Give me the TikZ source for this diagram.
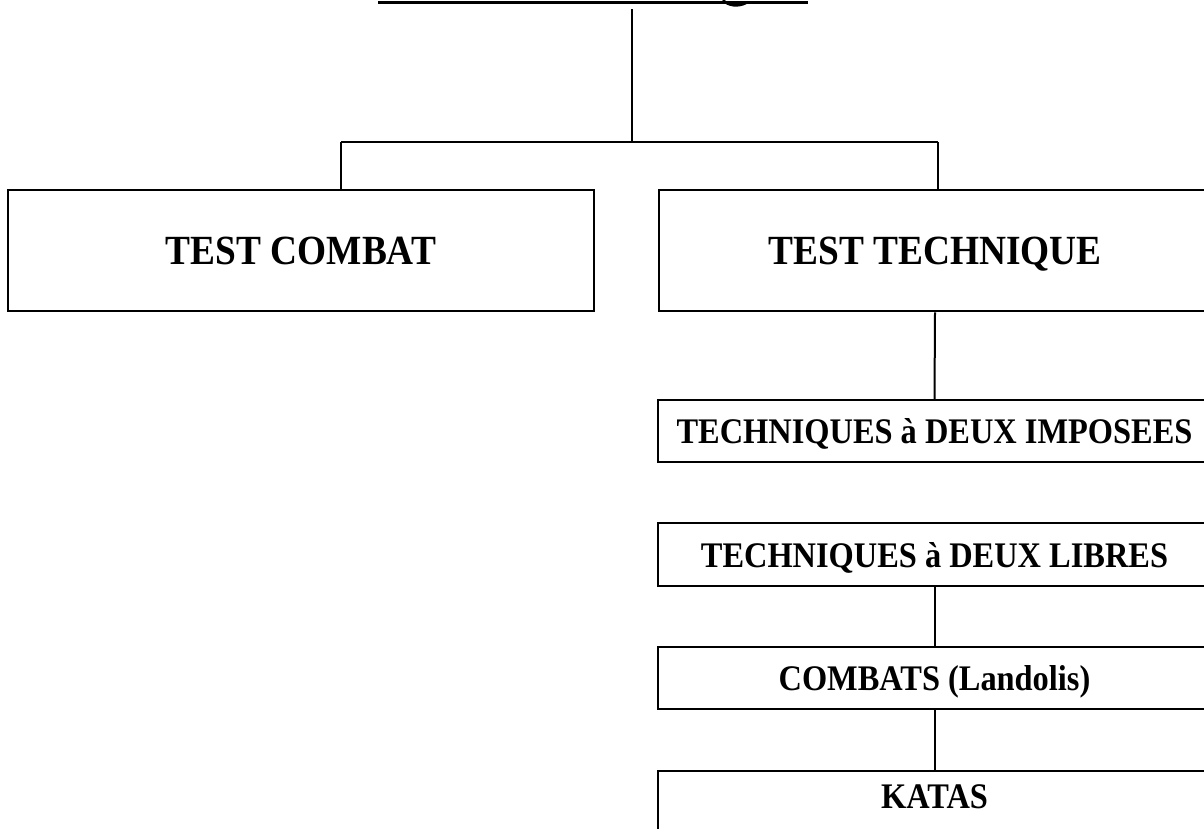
\documentclass[tikz,border=0pt]{standalone}
\usepackage{fontspec}
\setmainfont{Liberation Serif}
\newfontfamily\boxfont[FakeStretch=0.9]{Liberation Serif}
\begin{document}
\begin{tikzpicture}[x=1pt,y=-1pt,
  box/.style={draw=black,line width=2.5pt,rectangle,inner sep=0pt,text depth=0pt},
  big/.style={box,font=\boxfont\bfseries\fontsize{41.5}{44}\selectfont},
  small/.style={box,font=\boxfont\bfseries\fontsize{36}{38}\selectfont},
  conn/.style={draw=black,line width=2pt}]
\useasboundingbox (0,0) rectangle (1204,828);
% title underline (title text itself lies above the visible area)
\draw[line width=3pt] (378,2) -- (808,2);
\draw[line width=2.5pt] (723,0) .. controls (728,6) and (738,7) .. (746,3);
% boxes
\node[big,minimum width=586pt,minimum height=121pt] (tcombat) at (301,250.5) {TEST COMBAT};
\node[big,minimum width=552pt,minimum height=121pt] (ttech) at (935,250.5) {TEST TECHNIQUE};
\node[small,minimum width=553pt,minimum height=62pt] (imp) at (934.5,431) {TECHNIQUES à DEUX IMPOSEES};
\node[small,minimum width=553pt,minimum height=63pt] (lib) at (934.5,554.5) {TECHNIQUES à DEUX LIBRES};
\node[small,minimum width=553pt,minimum height=62pt] (comb) at (934.5,678) {COMBATS (Landolis)};
\node[small,minimum width=553pt,minimum height=100pt] (katas) at (934.5,821) {};
\node[font=\boxfont\bfseries\fontsize{36}{38}\selectfont,text depth=0pt,inner sep=0pt] (katast) at (934.5,797) {KATAS};
% connectors
\coordinate (top) at (632,9);
\coordinate (mid) at (632,142);
\coordinate (hl) at (341,142);
\coordinate (hr) at (938,142);
\draw[conn] (top) -- (mid);
\draw[conn] (hl) -- (hr);
\draw[conn] (hl) -- (hl |- tcombat.north);
\draw[conn] (hr) -- (hr |- ttech.north);
\draw[conn] (ttech.south) -- (imp.north);
\draw[conn] (lib.south) -- (comb.north);
\draw[conn] (comb.south) -- (katas.north);
\end{tikzpicture}
\end{document}
